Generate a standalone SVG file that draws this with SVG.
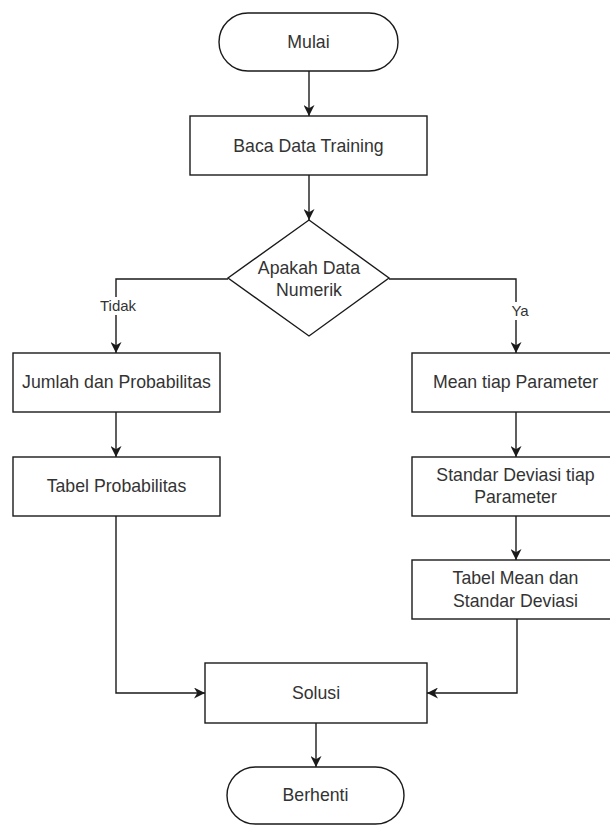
<svg xmlns="http://www.w3.org/2000/svg" width="610" height="825" viewBox="0 0 610 825">
<style>
.s{fill:#fff;stroke:#1a1a1a;stroke-width:1.4}
.t{font-family:"Liberation Sans",Arial,sans-serif;font-size:17.7px;fill:#333;text-anchor:middle}
.l{font-family:"Liberation Sans",Arial,sans-serif;font-size:15px;fill:#333;text-anchor:middle}
.c{fill:none;stroke:#1a1a1a;stroke-width:1.4}
</style>
<defs>
<marker id="a" viewBox="0 0 10 10" refX="10" refY="5" markerWidth="11" markerHeight="11" markerUnits="userSpaceOnUse" orient="auto">
<path d="M0,0 L10,5 L0,10 L3,5 Z" fill="#1a1a1a"/>
</marker>
</defs>
<rect width="610" height="825" fill="#fff"/>
<g id="connectors">
<path class="c" d="M309,71 V116" marker-end="url(#a)"/>
<path class="c" d="M309,175 V220" marker-end="url(#a)"/>
<path class="c" d="M228,279 H116 V353" marker-end="url(#a)"/>
<path class="c" d="M389,279 H516 V353" marker-end="url(#a)"/>
<path class="c" d="M116,412 V457" marker-end="url(#a)"/>
<path class="c" d="M516,412 V457" marker-end="url(#a)"/>
<path class="c" d="M516,516 V560" marker-end="url(#a)"/>
<path class="c" d="M116,516 V693 H205" marker-end="url(#a)"/>
<path class="c" d="M517,619 V693 H427" marker-end="url(#a)"/>
<path class="c" d="M316,723 V767" marker-end="url(#a)"/>
<rect x="98" y="297" width="40" height="18" fill="#fff"/>
<text class="l" x="118" y="311">Tidak</text>
<rect x="507" y="302" width="26" height="18" fill="#fff"/>
<text class="l" x="520" y="316">Ya</text>
</g>
<g id="mulai">
<rect class="s" x="219" y="13" width="179" height="58" rx="29" ry="29"/>
<text class="t" x="308.5" y="48">Mulai</text>
</g>
<g id="baca">
<rect class="s" x="190" y="116" width="237" height="59"/>
<text class="t" x="308.5" y="152">Baca Data Training</text>
</g>
<g id="decision">
<polygon class="s" points="309,220 389,278 309,336 228,278"/>
<text class="t" x="309" y="274">Apakah Data</text>
<text class="t" x="309" y="296">Numerik</text>
</g>
<g id="jumlah">
<rect class="s" x="13" y="353" width="207" height="59"/>
<text class="t" x="116.5" y="388">Jumlah dan Probabilitas</text>
</g>
<g id="tabelprob">
<rect class="s" x="13" y="457" width="207" height="59"/>
<text class="t" x="116.5" y="492">Tabel Probabilitas</text>
</g>
<g id="mean">
<rect class="s" x="412" y="353" width="207" height="59"/>
<text class="t" x="515.5" y="388">Mean tiap Parameter</text>
</g>
<g id="std">
<rect class="s" x="412" y="457" width="207" height="59"/>
<text class="t" x="515.5" y="481">Standar Deviasi tiap</text>
<text class="t" x="515.5" y="503">Parameter</text>
</g>
<g id="tabelmean">
<rect class="s" x="412" y="560" width="207" height="59"/>
<text class="t" x="515.5" y="584">Tabel Mean dan</text>
<text class="t" x="515.5" y="607">Standar Deviasi</text>
</g>
<g id="solusi">
<rect class="s" x="205" y="663" width="222" height="60"/>
<text class="t" x="316" y="699">Solusi</text>
</g>
<g id="berhenti">
<rect class="s" x="227" y="767" width="177" height="57" rx="28.5" ry="28.5"/>
<text class="t" x="315.5" y="801">Berhenti</text>
</g>
</svg>
